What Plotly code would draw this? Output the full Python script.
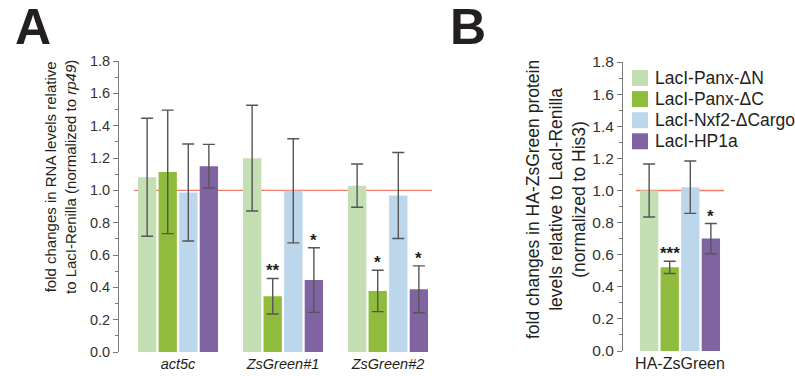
import plotly.graph_objects as go

# ---------------- data ----------------
series_names = ["LacI-Panx-ΔN", "LacI-Panx-ΔC", "LacI-Nxf2-ΔCargo", "LacI-HP1a"]
colors = ["#c5dfb4", "#8fbc3c", "#bcd7ec", "#8064a2"]

a_categories = ["act5c", "ZsGreen#1", "ZsGreen#2"]
a_means = [
    [1.081, 1.199, 1.029],   # Panx-dN
    [1.114, 0.345, 0.378],   # Panx-dC
    [0.987, 0.997, 0.968],   # Nxf2-dCargo
    [1.149, 0.445, 0.388],   # HP1a
]
a_errs = [
    [0.365, 0.327, 0.134],
    [0.382, 0.110, 0.128],
    [0.300, 0.322, 0.266],
    [0.135, 0.200, 0.145],
]
a_sig = [
    ["", "", ""],
    ["", "**", "*"],
    ["", "", ""],
    ["", "*", "*"],
]

b_categories = ["HA-ZsGreen"]
b_means = [[1.00], [0.521], [1.02], [0.700]]
b_errs = [[0.165], [0.038], [0.163], [0.094]]
b_sig = [[""], ["***"], [""], ["*"]]

y_ticks = [0.0, 0.2, 0.4, 0.6, 0.8, 1.0, 1.2, 1.4, 1.6, 1.8]
ref_level = 1.0

# ---------------- style ----------------
W, H = 795, 376
FONT = "Liberation Sans, Arial, Helvetica, sans-serif"
BARGAP = 0.216
BARGROUPGAP = 0.11
ERR_COLOR = "#555555"
AXIS_COLOR = "#7a7a7a"
TEXT_COLOR = "#231f20"
RED = "#f47c6a"


def px(x):
    return x / W


def py(y):
    return (H - y) / H


fig = go.Figure()

n = len(series_names)
for i, name in enumerate(series_names):
    fig.add_trace(go.Bar(
        x=list(range(len(a_categories))), y=a_means[i], name=name,
        marker=dict(color=colors[i], line=dict(width=0)),
        error_y=dict(type="data", array=a_errs[i], visible=True,
                     color=ERR_COLOR, thickness=1.4, width=6),
        xaxis="x", yaxis="y", showlegend=False,
    ))
for i, name in enumerate(series_names):
    fig.add_trace(go.Bar(
        x=list(range(len(b_categories))), y=b_means[i], name=name,
        marker=dict(color=colors[i], line=dict(width=0)),
        error_y=dict(type="data", array=b_errs[i], visible=True,
                     color=ERR_COLOR, thickness=1.4, width=6),
        xaxis="x2", yaxis="y2", showlegend=False,
    ))

annotations = []
# significance stars
for i in range(n):
    off = (i - (n - 1) / 2) * (1 - BARGAP) / n
    for j, s in enumerate(a_sig[i]):
        if s:
            annotations.append(dict(x=j + off, y=a_means[i][j] + a_errs[i][j],
                                    xref="x", yref="y", text="<b>" + s + "</b>", showarrow=False,
                                    yanchor="bottom", yshift=-4,
                                    font=dict(size=17, color=TEXT_COLOR, family=FONT)))
    for j, s in enumerate(b_sig[i]):
        if s:
            annotations.append(dict(x=j + off, y=b_means[i][j] + b_errs[i][j],
                                    xref="x2", yref="y2", text="<b>" + s + "</b>", showarrow=False,
                                    yanchor="bottom", yshift=-4,
                                    font=dict(size=17, color=TEXT_COLOR, family=FONT)))

# panel letters
annotations.append(dict(x=px(33), y=py(27), xref="paper", yref="paper", text="<b>A</b>",
                        showarrow=False, xanchor="center", yanchor="middle",
                        font=dict(size=50, color=TEXT_COLOR, family=FONT)))
annotations.append(dict(x=px(468), y=py(27), xref="paper", yref="paper", text="<b>B</b>",
                        showarrow=False, xanchor="center", yanchor="middle",
                        font=dict(size=50, color=TEXT_COLOR, family=FONT)))

# axis titles
annotations.append(dict(x=px(60), y=py(177), xref="paper", yref="paper",
                        text="fold changes in RNA levels relative<br>to LacI-Renilla (normalized to <i>rp49</i>)",
                        showarrow=False, textangle=-90, xanchor="center", yanchor="middle",
                        font=dict(size=15, color=TEXT_COLOR, family=FONT)))
annotations.append(dict(x=px(556), y=py(200), xref="paper", yref="paper",
                        text="fold changes in HA-ZsGreen protein<br>levels relative to LacI-Renilla<br>(normalized to His3)",
                        showarrow=False, textangle=-90, xanchor="center", yanchor="middle",
                        font=dict(size=17.5, color=TEXT_COLOR, family=FONT)))

shapes = []
# reference lines at 1.0
shapes.append(dict(type="line", xref="x", yref="y", x0=-0.42, x1=len(a_categories) - 1 + 0.42,
                   y0=ref_level, y1=ref_level, line=dict(color=RED, width=1.4), layer="below"))
shapes.append(dict(type="line", xref="x2", yref="y2", x0=-0.42, x1=len(b_categories) - 1 + 0.42,
                   y0=ref_level, y1=ref_level, line=dict(color=RED, width=1.4), layer="below"))

# manual legend
leg_x0, leg_y0, leg_step, sw = 632, 70, 21.1, 16
for i, name in enumerate(series_names):
    top = leg_y0 + i * leg_step
    shapes.append(dict(type="rect", xref="paper", yref="paper",
                       x0=px(leg_x0), x1=px(leg_x0 + sw), y0=py(top + sw), y1=py(top),
                       fillcolor=colors[i], line=dict(width=0)))
    annotations.append(dict(x=px(653), y=py(top + sw / 2), xref="paper", yref="paper",
                            text=name, showarrow=False, xanchor="left", yanchor="middle",
                            font=dict(size=17.5, color=TEXT_COLOR, family=FONT)))

yaxis_common = dict(
    range=[0, 1.8], tickvals=y_ticks, ticktext=[f"{v:.1f}" for v in y_ticks],
    showline=True, linecolor=AXIS_COLOR, linewidth=1, ticks="outside", ticklen=5,
    tickcolor=AXIS_COLOR, tickwidth=1, showgrid=False, zeroline=False, automargin=False,
    minor=dict(dtick=0.1, tick0=0, ticks="outside", ticklen=3, tickcolor=AXIS_COLOR, showgrid=False),
)

fig.update_layout(
    width=W, height=H, margin=dict(l=0, r=0, t=0, b=0, autoexpand=False),
    paper_bgcolor="white", plot_bgcolor="white",
    barmode="group", bargap=BARGAP, bargroupgap=BARGROUPGAP,
    font=dict(family=FONT, color=TEXT_COLOR),
    xaxis=dict(domain=[px(119), px(447)], range=[-0.562, 2.562],
               tickvals=list(range(len(a_categories))), ticktext=a_categories,
               tickfont=dict(size=14.5, style="italic", color=TEXT_COLOR),
               showline=False, ticks="", showgrid=False, zeroline=False, anchor="y",
               automargin=False, ticklabelstandoff=1),
    yaxis=dict(domain=[py(352), py(61)], anchor="x",
               tickfont=dict(size=14.5, color="#333333"), **yaxis_common),
    xaxis2=dict(domain=[px(623), px(737)], range=[-0.543, 0.543],
                tickvals=list(range(len(b_categories))), ticktext=b_categories,
                tickfont=dict(size=16, color=TEXT_COLOR),
                showline=False, ticks="", showgrid=False, zeroline=False, anchor="y2",
                automargin=False, ticklabelstandoff=1),
    yaxis2=dict(domain=[py(351), py(62)], anchor="x2",
                tickfont=dict(size=15.5, color="#333333"), **yaxis_common),
    annotations=annotations, shapes=shapes, showlegend=False,
)

fig.write_html("out.html")
